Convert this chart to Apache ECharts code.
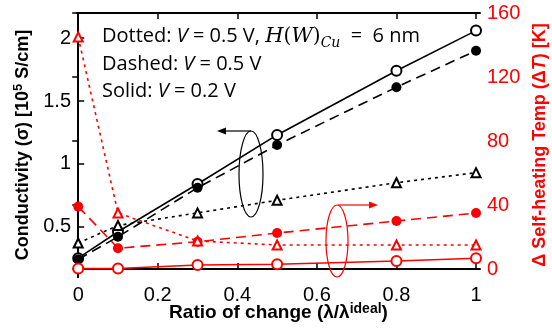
<!DOCTYPE html>
<html>
<head>
<meta charset="utf-8">
<script src="https://cdn.jsdelivr.net/npm/echarts@6/dist/echarts.min.js"></script>
<style>
html, body { margin: 0; padding: 0; background: #fff; }
#chart { width: 552px; height: 329px; }
</style>
</head>
<body>
<div id="chart"></div>
<script>
// ratio of change λ/λideal
var ratio = [0, 0.1, 0.3, 0.5, 0.8, 1.0];
// conductivity [1e5 S/cm], left axis
var sigmaSolid = [0.25, 0.46, 0.84, 1.23, 1.74, 2.06];
var sigmaDashed = [0.24, 0.42, 0.81, 1.15, 1.61, 1.90];
var sigmaDotted = [0.37, 0.51, 0.61, 0.71, 0.85, 0.93];
// self-heating temp [K], right axis
var tempDashed = [39, 13, 17, 22.5, 30, 35];
var tempDotted = [145, 35, 17.5, 15, 15, 15];
var tempSolid = [0.3, 0.3, 2.5, 3, 5, 6.7];
// tick labels
var xTicks = [0, 0.2, 0.4, 0.6, 0.8, 1];
var sigmaTicks = [0.5, 1, 1.5, 2];
var tempTicks = [0, 40, 80, 120, 160];

var RED = '#ff0000';
var font = 'Liberation Sans, Arial, sans-serif';

function pairs (xs, ys) {
  return xs.map(function (x, i) { return [x, ys[i]] })
}

function mkSeries (name, data, yIdx, color, type, symbol, size) {
  return {
    name: name,
    type: 'line',
    yAxisIndex: yIdx,
    data: pairs(ratio, data),
    symbol: symbol,
    symbolSize: size,
    showSymbol: true,
    lineStyle: { color: color, width: 1.6, type: type },
    itemStyle: { color: color, borderWidth: 1.4 },
    z: 3
  }
}

var chart = echarts.init(document.getElementById('chart'))
chart.setOption({
  animation: false,
  backgroundColor: '#fff',
  grid: { left: 77, right: 72, top: 13, bottom: 52, outerBoundsMode: 'none', containLabel: false },
  xAxis: [
    {
      type: 'value',
      min: -0.003,
      max: 1.01,
      axisLine: { lineStyle: { color: '#000', width: 2 } },
      axisTick: { inside: true, length: 6, customValues: xTicks, lineStyle: { color: '#000', width: 1.5 } },
      axisLabel: { customValues: xTicks, margin: 8, fontSize: 20, color: '#000', fontFamily: font },
      splitLine: { show: false },
      name: '{a|Ratio of change (λ/λ}{s|ideal}{a|)}',
      nameLocation: 'middle',
      nameGap: 25,
      nameMoveOverlap: false,
      nameTextStyle: {
        rich: {
          a: { fontSize: 19, fontWeight: 'bold', fontFamily: font, color: '#000', lineHeight: 22 },
          s: { fontSize: 14, fontWeight: 'bold', fontFamily: font, color: '#000', verticalAlign: 'top', lineHeight: 22 }
        }
      }
    },
    {
      type: 'value',
      position: 'top',
      min: -0.003,
      max: 1.01,
      axisLine: { show: true, lineStyle: { color: '#000', width: 2 } },
      axisTick: { inside: true, length: 6, customValues: xTicks, lineStyle: { color: '#000', width: 1.5 } },
      axisLabel: { show: false },
      splitLine: { show: false }
    }
  ],
  yAxis: [
    {
      type: 'value',
      min: 0.1,
      max: 2.2,
      axisLine: { show: true, lineStyle: { color: '#000', width: 2 } },
      axisTick: { show: true, inside: true, length: 6, customValues: sigmaTicks, lineStyle: { color: '#000', width: 1.5 } },
      axisLabel: { customValues: sigmaTicks, margin: 6, fontSize: 20, color: '#000', fontFamily: font },
      splitLine: { show: false },
      name: '{a|Conductivity (σ) [10}{s|5}{a| S/cm]}',
      nameLocation: 'middle',
      nameGap: 42,
      nameTextStyle: {
        rich: {
          a: { fontSize: 18, fontWeight: 'bold', fontFamily: font, color: '#000', lineHeight: 22 },
          s: { fontSize: 13, fontWeight: 'bold', fontFamily: font, color: '#000', verticalAlign: 'top', lineHeight: 22 }
        }
      }
    },
    {
      type: 'value',
      position: 'right',
      min: -5,
      max: 160,
      axisLine: { show: true, lineStyle: { color: '#000', width: 2 } },
      axisTick: { show: true, inside: true, length: 6, customValues: tempTicks, lineStyle: { color: '#000', width: 1.5 } },
      axisLabel: { customValues: tempTicks, margin: 7, fontSize: 20, color: RED, fontFamily: font },
      splitLine: { show: false },
      name: '{a|Δ Self-heating Temp (Δ}{i|T}{a|) [K]}',
      nameLocation: 'middle',
      nameGap: 49,
      nameTextStyle: {
        rich: {
          a: { fontSize: 18, fontWeight: 'bold', fontFamily: font, color: RED },
          i: { fontSize: 18, fontWeight: 'bold', fontStyle: 'italic', fontFamily: font, color: RED }
        }
      }
    }
  ],
  series: [
    mkSeries('V0.2 sigma', sigmaSolid, 0, '#000', 'solid', 'emptyCircle', 10),
    mkSeries('V0.5 sigma', sigmaDashed, 0, '#000', [10, 6], 'circle', 10),
    mkSeries('V0.5 H6 sigma', sigmaDotted, 0, '#000', [3, 4], 'emptyTriangle', 9),
    mkSeries('V0.5 temp', tempDashed, 1, RED, [10, 6], 'circle', 10),
    mkSeries('V0.5 H6 temp', tempDotted, 1, RED, [3, 4], 'emptyTriangle', 9),
    mkSeries('V0.2 temp', tempSolid, 1, RED, 'solid', 'emptyCircle', 10)
  ],
  graphic: [
    {
      type: 'text',
      left: 102,
      top: 26,
      style: {
        text: '{n|Dotted: }{i|V}{n| = 0.5 V, }{m|H}{p|(}{m|W}{p|)}{sub|Cu}{n|  =  6 nm}\n' +
              '{n|Dashed: }{i|V}{n| = 0.5 V}\n' +
              '{n|Solid: }{i|V}{n| = 0.2 V}',
        rich: {
          n: { fontSize: 20, fontFamily: 'Open Sans', fill: '#000', lineHeight: 27.5 },
          i: { fontSize: 20, fontFamily: 'Open Sans', fontStyle: 'italic', fill: '#000', lineHeight: 27.5 },
          m: { fontSize: 21, fontFamily: 'DejaVu Serif', fontStyle: 'italic', fill: '#000', lineHeight: 27.5 },
          p: { fontSize: 20, fontFamily: 'DejaVu Serif', fill: '#000', lineHeight: 27.5 },
          sub: { fontSize: 14, fontFamily: 'DejaVu Serif', fontStyle: 'italic', fill: '#000', lineHeight: 27.5, verticalAlign: 'bottom', padding: [8, 0, 0, 0] }
        }
      }
    },
    { type: 'ellipse', shape: { cx: 251, cy: 174, rx: 12, ry: 43 }, style: { fill: 'none', stroke: '#000', lineWidth: 1.2 }, z: 10 },
    { type: 'line', shape: { x1: 251, y1: 131, x2: 224, y2: 131 }, style: { stroke: '#000', lineWidth: 1.2 }, z: 10 },
    { type: 'polygon', shape: { points: [[217, 131], [226, 127.5], [226, 134.5]] }, style: { fill: '#000' }, z: 10 },
    { type: 'ellipse', shape: { cx: 337, cy: 241, rx: 11, ry: 36 }, style: { fill: 'none', stroke: RED, lineWidth: 1.2 }, z: 10 },
    { type: 'line', shape: { x1: 338, y1: 205, x2: 370, y2: 205 }, style: { stroke: RED, lineWidth: 1.2 }, z: 10 },
    { type: 'polygon', shape: { points: [[378, 205], [369, 201.5], [369, 208.5]] }, style: { fill: RED }, z: 10 }
  ]
})
</script>
</body>
</html>
